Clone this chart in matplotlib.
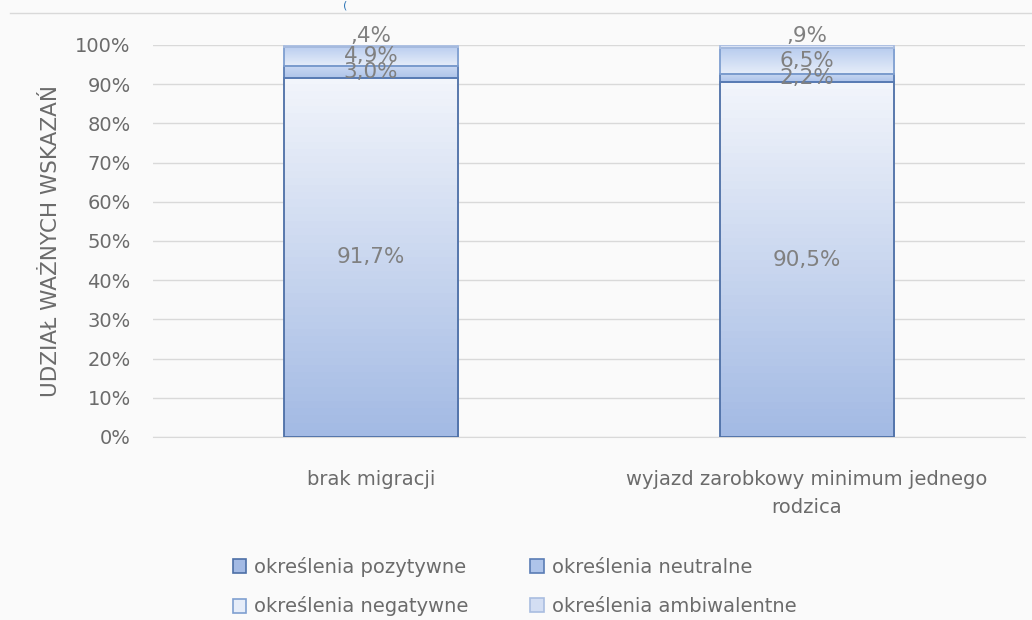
import matplotlib.pyplot as plt
import numpy as np
from matplotlib.colors import LinearSegmentedColormap
from matplotlib.patches import Patch

plt.rcParams['font.family'] = ['DejaVu Sans']

categories = ['brak migracji', 'wyjazd zarobkowy minimum jednego\nrodzica']
series = ['określenia pozytywne', 'określenia neutralne',
          'określenia negatywne', 'określenia ambiwalentne']
pozytywne = [91.7, 90.5]
neutralne = [3.0, 2.2]
negatywne = [4.9, 6.5]
ambiwalentne = [0.4, 0.9]
labels = [['91,7%', '90,5%'], ['3,0%', '2,2%'], ['4,9%', '6,5%'], [',4%', ',9%']]

values = [pozytywne, neutralne, negatywne, ambiwalentne]
# gradient colours (top, bottom) and edge colours per series
grads = [('#f2f5fb', '#a3bae4'), ('#c9d8f2', '#aec4ea'),
         ('#b9cdef', '#e6edf9'), ('#e3eaf7', '#d3def3')]
edges = ['#4d6fa6', '#5a7db5', '#7f9fd0', '#a9bde0']
text_col = '#6b6b6b'
bg = '#fafafa'

fig = plt.figure(figsize=(10.32, 6.2), dpi=100, facecolor=bg)
ax = fig.add_axes([153 / 1032, 1 - 437 / 620, (1025 - 153) / 1032, (437 - 45) / 620])
ax.set_facecolor(bg)

x = np.arange(len(categories))
bottom = np.zeros(len(categories))
for i, vals in enumerate(values):
    bars = ax.bar(x, vals, 0.4, bottom=bottom, facecolor='none',
                  edgecolor=edges[i], linewidth=1.3, zorder=3)
    cmap = LinearSegmentedColormap.from_list('g%d' % i, [grads[i][1], grads[i][0]])
    for b in bars:
        x0, y0 = b.get_x(), b.get_y()
        im = ax.imshow(np.linspace(0, 1, 50).reshape(-1, 1), cmap=cmap, aspect='auto',
                       origin='lower', extent=[x0, x0 + b.get_width(), y0, y0 + b.get_height()],
                       zorder=2)
        im.set_clip_path(b)
    for j, b in enumerate(bars):
        yc = bottom[j] + vals[j] / 2
        if i == 3:
            yc = bottom[j] + vals[j] + 2.3
        ax.text(x[j], yc, labels[i][j], ha='center', va='center',
                color='#808080', fontsize=15.5, zorder=4)
    bottom += np.array(vals)

ax.set_xlim(-0.5, 1.5)
ax.set_ylim(0, 100)
ax.set_yticks(np.arange(0, 101, 10))
ax.set_yticklabels(['%d%%' % v for v in range(0, 101, 10)])
ax.set_xticks(x)
ax.set_xticklabels(categories, linespacing=1.6)
ax.tick_params(axis='both', length=0, colors=text_col, labelsize=14)
ax.tick_params(axis='y', pad=16)
ax.tick_params(axis='x', pad=24)
ax.grid(axis='y', color='#d9d9d9', linewidth=1, zorder=0)
ax.set_axisbelow(True)
for s in ['top', 'right', 'left']:
    ax.spines[s].set_visible(False)
ax.spines['bottom'].set_color('#d9d9d9')
ax.set_ylabel('UDZIAŁ WAŻNYCH WSKAZAŃ', color=text_col, fontsize=15.5, labelpad=10)

# top border line of the chart area and clipped title fragment
fig.add_artist(plt.Line2D([10 / 1032, 1], [1 - 13 / 620, 1 - 13 / 620],
                          color='#d9d9d9', linewidth=1))
fig.text(345 / 1032, 1 - 1 / 620, '(', color='#2e75b6', fontsize=8, ha='center', va='top')

handles = [Patch(facecolor=grads[i][1], edgecolor=edges[i], linewidth=1.2) for i in range(4)]
order = [0, 2, 1, 3]
fig.legend([handles[k] for k in order], [series[k] for k in order],
           loc='lower left', bbox_to_anchor=(215 / 1032, -14 / 620),
           ncol=2, frameon=False, fontsize=14, labelcolor=text_col,
           handlelength=0.7, handleheight=0.7, handletextpad=0.4,
           columnspacing=3.2, labelspacing=1.0)

fig.savefig('out.png', dpi=100, facecolor=bg)
